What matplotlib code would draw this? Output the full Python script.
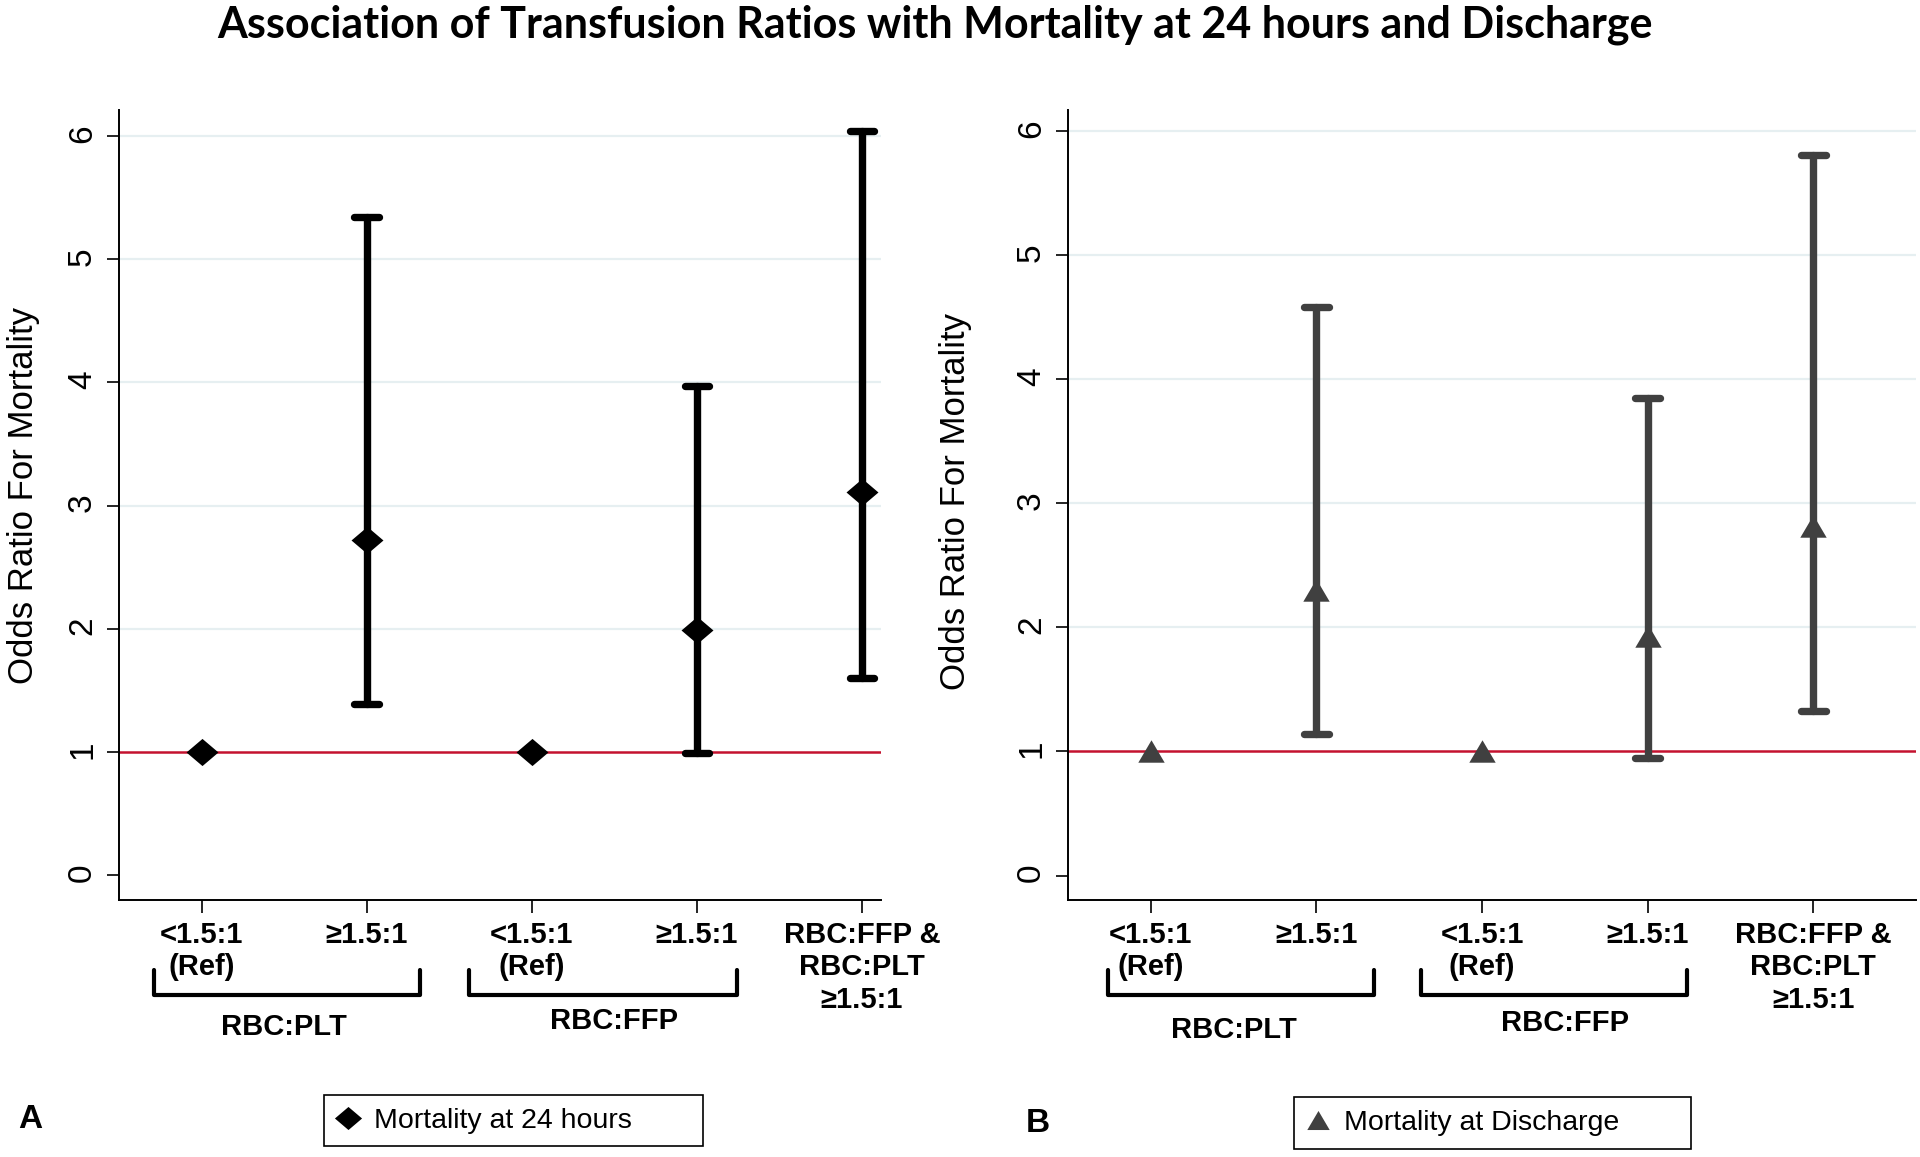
import matplotlib.pyplot as plt
from matplotlib.lines import Line2D
from matplotlib.transforms import blended_transform_factory

plt.rcParams['font.family'] = ['Liberation Sans', 'DejaVu Sans']

# Data
categories = ["<1.5:1\n(Ref)", "≥1.5:1", "<1.5:1\n(Ref)", "≥1.5:1",
              "RBC:FFP &\nRBC:PLT\n≥1.5:1"]
x_pos = [1, 2, 3, 4, 5]

or_24h = [1.0, 2.72, 1.0, 1.99, 3.11]
lo_24h = [None, 1.39, None, 0.99, 1.60]
hi_24h = [None, 5.34, None, 3.97, 6.04]

or_dis = [1.0, 2.30, 1.0, 1.93, 2.82]
lo_dis = [None, 1.14, None, 0.95, 1.33]
hi_dis = [None, 4.58, None, 3.85, 5.81]

groups = ["RBC:PLT", "RBC:FFP"]
group_members = [(1, 2), (3, 4)]
yticks = [0, 1, 2, 3, 4, 5, 6]
grid_y = [2, 3, 4, 5, 6]

W, H = 1920, 1157


def fx(px):
    return px / W


def fy(px):
    return 1 - px / H


diamond = [(-1, 0), (0, 0.85), (1, 0), (0, -0.85), (-1, 0)]
triangle = [(0, 0.85), (-1, -0.85), (1, -0.85), (0, 0.85)]

fig = plt.figure(figsize=(19.2, 11.57), dpi=100)


def draw_panel(box, xlim, ylim, vals, lo, hi, color, marker, ms, legend_label,
               legend_box, brackets, group_y, ylabel_xy, letter, letter_xy):
    left, top, right, bottom = box
    ax = fig.add_axes([fx(left), fy(bottom), fx(right) - fx(left), (bottom - top) / H])
    ax.set_xlim(*xlim)
    ax.set_ylim(*ylim)

    ax.hlines(grid_y, xlim[0], xlim[1], color="#e6eff1", lw=1.6, zorder=1)
    ax.axhline(1, color="#c4122f", lw=1.8, zorder=2)

    xs = [x for x, l in zip(x_pos, lo) if l is not None]
    los = [l for l in lo if l is not None]
    his = [h for h in hi if h is not None]
    cap = 0.074
    ax.vlines(xs, los, his, color=color, lw=5.3, capstyle="round", zorder=3)
    ax.hlines(los + his, [x - cap for x in xs + xs], [x + cap for x in xs + xs],
              color=color, lw=5.3, capstyle="round", zorder=3)
    ax.plot(x_pos, vals, linestyle="none", marker=marker, ms=ms, color=color,
            markeredgewidth=0, zorder=4)

    for s in ["top", "right"]:
        ax.spines[s].set_visible(False)
    for s in ["left", "bottom"]:
        ax.spines[s].set_linewidth(1.4)
        ax.spines[s].set_color("black")

    ax.set_yticks(yticks)
    ax.set_yticklabels([str(t) for t in yticks], fontsize=24)
    ax.tick_params(axis="y", labelrotation=90, length=9, width=1.2, pad=6)
    ax.set_xticks(x_pos)
    ax.set_xticklabels(categories, fontsize=21, fontweight="bold")
    ax.tick_params(axis="x", length=9, width=1.2, pad=6)

    fig.text(fx(ylabel_xy[0]), fy(ylabel_xy[1]), "Odds Ratio For Mortality",
             rotation=90, ha="center", va="center", fontsize=25)

    trans = blended_transform_factory(ax.transData, fig.transFigure)
    for (b0, b1), name, gy, mem in zip(brackets, groups, group_y, group_members):
        ax.plot([b0, b0, b1, b1], [fy(970), fy(995), fy(995), fy(970)],
                transform=trans, color="black", lw=3, clip_on=False,
                solid_joinstyle="round", solid_capstyle="round")
        ax.text(sum(mem) / 2, fy(gy), name, transform=trans, ha="center",
                va="center", fontsize=21, fontweight="bold")

    handle = Line2D([], [], linestyle="none", marker=marker, ms=ms * 0.85,
                    color=color, markeredgewidth=0)
    l0, t0, r0, b0 = legend_box
    leg = ax.legend([handle], [legend_label], loc="center",
                    bbox_to_anchor=(fx(l0), fy(b0), fx(r0) - fx(l0), (b0 - t0) / H),
                    bbox_transform=fig.transFigure, mode="expand", fontsize=20.5,
                    fancybox=False, edgecolor="black", framealpha=1,
                    borderpad=0.45, borderaxespad=0, handlelength=0.8,
                    handletextpad=0.5)
    leg.get_frame().set_linewidth(1.2)

    fig.text(fx(letter_xy[0]), fy(letter_xy[1]), letter, fontsize=24,
             fontweight="bold", ha="center", va="center")
    return ax


draw_panel(box=(119, 110, 881, 900), xlim=(0.5, 5.115), ylim=(-0.199, 6.21),
           vals=or_24h, lo=lo_24h, hi=hi_24h, color="black", marker=diamond,
           ms=23, legend_label="Mortality at 24 hours",
           legend_box=(324, 1092, 703, 1149),
           brackets=[(0.71, 2.32), (2.62, 4.24)], group_y=[1027, 1021],
           ylabel_xy=(24, 496), letter="A", letter_xy=(30, 1120))

draw_panel(box=(1068, 110, 1916, 900), xlim=(0.5, 5.62), ylim=(-0.197, 6.17),
           vals=or_dis, lo=lo_dis, hi=hi_dis, color="#404040", marker=triangle,
           ms=19, legend_label="Mortality at Discharge",
           legend_box=(1294, 1095, 1691, 1151),
           brackets=[(0.74, 2.35), (2.63, 4.24)], group_y=[1030, 1023],
           ylabel_xy=(956, 502), letter="B", letter_xy=(1038, 1123))

fig.text(fx(935), fy(25),
         "Association of Transfusion Ratios with Mortality at 24 hours and Discharge",
         ha="center", va="center", fontsize=31, fontweight="bold",
         family=["Lato", "DejaVu Sans"])

fig.savefig("out.png", dpi=100)
